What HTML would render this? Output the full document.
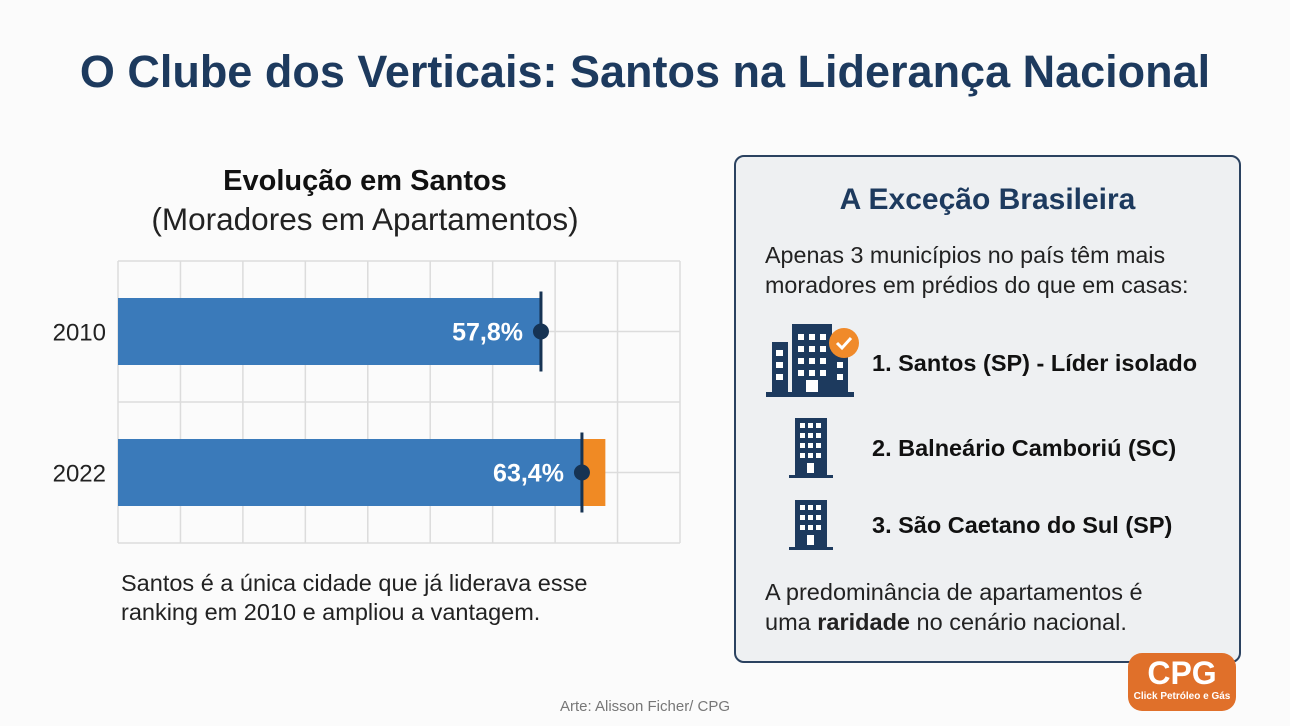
<!DOCTYPE html>
<html><head><meta charset="utf-8"><style>
body{margin:0;width:1290px;height:726px;background:#fbfbfb;font-family:"Liberation Sans",sans-serif;position:relative;overflow:hidden}
.a{position:absolute}
</style></head><body>
<div class="a" style="left:0;width:1290px;top:46px;text-align:center;font-size:45px;font-weight:bold;color:#1d3a5e">O Clube dos Verticais: Santos na Liderança Nacional</div>
<div class="a" style="left:90px;width:550px;top:165px;text-align:center;font-size:29px;font-weight:bold;color:#111">Evolução em Santos</div>
<div class="a" style="left:90px;width:550px;top:201px;text-align:center;font-size:31.5px;color:#222">(Moradores em Apartamentos)</div>
<svg class="a" id="chart" style="left:0;top:0" width="700" height="560"></svg>
<div class="a" style="left:121px;top:569px;font-size:23.5px;line-height:29px;color:#222">Santos é a única cidade que já liderava esse<br>ranking em 2010 e ampliou a vantagem.</div>
<div class="a" style="left:734px;top:155px;width:503px;height:504px;border:2px solid #2b4260;border-radius:10px;background:#eef0f2"></div>
<div class="a" style="left:736px;width:503px;top:183px;text-align:center;font-size:30px;font-weight:bold;color:#1d3a5e">A Exceção Brasileira</div>
<div class="a" style="left:765px;top:240px;font-size:23.3px;line-height:30px;color:#222">Apenas 3 municípios no país têm mais<br>moradores em prédios do que em casas:</div>
<svg class="a" style="left:764px;top:320px" width="100" height="80">
<g fill="#1d3a5e"><rect x="8" y="22" width="16" height="52"/><rect x="28" y="4" width="40" height="70"/><rect x="68" y="22" width="16" height="52"/><rect x="2" y="72" width="88" height="5"/></g>
<g fill="#fff"><rect x="12" y="30" width="7" height="6"/><rect x="12" y="42" width="7" height="6"/><rect x="12" y="54" width="7" height="6"/>
<rect x="34" y="14" width="6" height="6"/><rect x="45" y="14" width="6" height="6"/><rect x="56" y="14" width="6" height="6"/>
<rect x="34" y="26" width="6" height="6"/><rect x="45" y="26" width="6" height="6"/><rect x="56" y="26" width="6" height="6"/>
<rect x="34" y="38" width="6" height="6"/><rect x="45" y="38" width="6" height="6"/><rect x="56" y="38" width="6" height="6"/>
<rect x="34" y="50" width="6" height="6"/><rect x="45" y="50" width="6" height="6"/><rect x="56" y="50" width="6" height="6"/>
<rect x="42" y="60" width="12" height="12"/><rect x="73" y="42" width="6" height="6"/><rect x="73" y="54" width="6" height="6"/></g>
<circle cx="80" cy="23" r="15" fill="#f08a2a"/><path d="M73 23 l5 5 l9-10" stroke="#fff" stroke-width="3" fill="none"/>
</svg>
<svg class="a" style="left:787px;top:418px" width="48" height="62">
<rect x="8" y="0" width="32" height="58" fill="#1d3a5e"/><rect x="2" y="57" width="44" height="3" fill="#1d3a5e"/>
<g fill="#fff"><rect x="13" y="5" width="5" height="5"/><rect x="21" y="5" width="5" height="5"/><rect x="29" y="5" width="5" height="5"/><rect x="13" y="15" width="5" height="5"/><rect x="21" y="15" width="5" height="5"/><rect x="29" y="15" width="5" height="5"/><rect x="13" y="25" width="5" height="5"/><rect x="21" y="25" width="5" height="5"/><rect x="29" y="25" width="5" height="5"/><rect x="13" y="35" width="5" height="5"/><rect x="21" y="35" width="5" height="5"/><rect x="29" y="35" width="5" height="5"/><rect x="20" y="45" width="7" height="10"/></g></svg>
<svg class="a" style="left:787px;top:500px" width="48" height="52">
<rect x="8" y="0" width="32" height="48" fill="#1d3a5e"/><rect x="2" y="47" width="44" height="3" fill="#1d3a5e"/>
<g fill="#fff"><rect x="13" y="5" width="5" height="5"/><rect x="21" y="5" width="5" height="5"/><rect x="29" y="5" width="5" height="5"/><rect x="13" y="15" width="5" height="5"/><rect x="21" y="15" width="5" height="5"/><rect x="29" y="15" width="5" height="5"/><rect x="13" y="25" width="5" height="5"/><rect x="21" y="25" width="5" height="5"/><rect x="29" y="25" width="5" height="5"/><rect x="20" y="35" width="7" height="10"/></g></svg>
<div class="a" style="left:872px;top:350px;font-size:23.5px;font-weight:bold;color:#111">1. Santos (SP) - Líder isolado</div>
<div class="a" style="left:872px;top:435px;font-size:23.5px;font-weight:bold;color:#111">2. Balneário Camboriú (SC)</div>
<div class="a" style="left:872px;top:512px;font-size:23.5px;font-weight:bold;color:#111">3. São Caetano do Sul (SP)</div>
<div class="a" style="left:765px;top:577px;font-size:23.5px;line-height:30px;color:#222">A predominância de apartamentos é<br>uma <b>raridade</b> no cenário nacional.</div>
<div class="a" style="left:0;width:1290px;top:698px;text-align:center;font-size:15px;color:#777">Arte: Alisson Ficher/ CPG</div>
<div class="a" style="left:1128px;top:653px;width:108px;height:58px;border-radius:14px;background:#e0702a;color:#fff;text-align:center">
<div style="font-size:32px;font-weight:bold;line-height:36px;margin-top:2px">CPG</div><div style="font-size:10px;font-weight:bold">Click Petróleo e Gás</div></div>
<script>
const categories=["2010","2022"];
const values=[57.8,63.4];
const extra=[0,3.2];
const labels=["57,8%","63,4%"];
const x0=118,x1=680,yTop=261,yBot=543,xMax=76.8,nCols=9,nRows=4;
const svg=document.getElementById('chart');
const NS='http://www.w3.org/2000/svg';
const xs=v=>x0+(x1-x0)*v/xMax;
const rowH=(yBot-yTop)/nRows;
function mk(t,a){const e=document.createElementNS(NS,t);for(const k in a)e.setAttribute(k,a[k]);svg.appendChild(e);return e;}
for(let i=0;i<=nCols;i++){const l=mk('line',{x1:x0+(x1-x0)*i/nCols,x2:x0+(x1-x0)*i/nCols,y1:yTop,y2:yBot,stroke:'#dcdcdc','stroke-width':1.5});

}
for(let i=0;i<=nRows;i++){const l=mk('line',{x1:x0,x2:x1,y1:yTop+rowH*i,y2:yTop+rowH*i,stroke:'#dcdcdc','stroke-width':1.5});

}
categories.forEach((c,i)=>{
const cy=yTop+rowH*(2*i+1);const h=67;
const xe=xs(values[i]);
if(extra[i]>0){const o=mk('rect',{x:xe,y:cy-h/2,width:xs(values[i]+extra[i])-xe,height:h,fill:'#f08a24'});

}
const b=mk('rect',{x:x0,y:cy-h/2,width:xe-x0,height:h,fill:'#3a7aba'});


const m=mk('line',{x1:xe,x2:xe,y1:cy-40,y2:cy+40,stroke:'#163353','stroke-width':3});


const d=mk('circle',{cx:xe,cy:cy,r:8,fill:'#163353'});


const t=mk('text',{x:xe-18,y:cy+9,'text-anchor':'end','font-size':25,'font-weight':'bold',fill:'#fff','font-family':'Liberation Sans'});t.textContent=labels[i];


const y=mk('text',{x:106,y:cy+9,'text-anchor':'end','font-size':24,fill:'#222','font-family':'Liberation Sans'});y.textContent=c;


});
</script>
</body></html>
